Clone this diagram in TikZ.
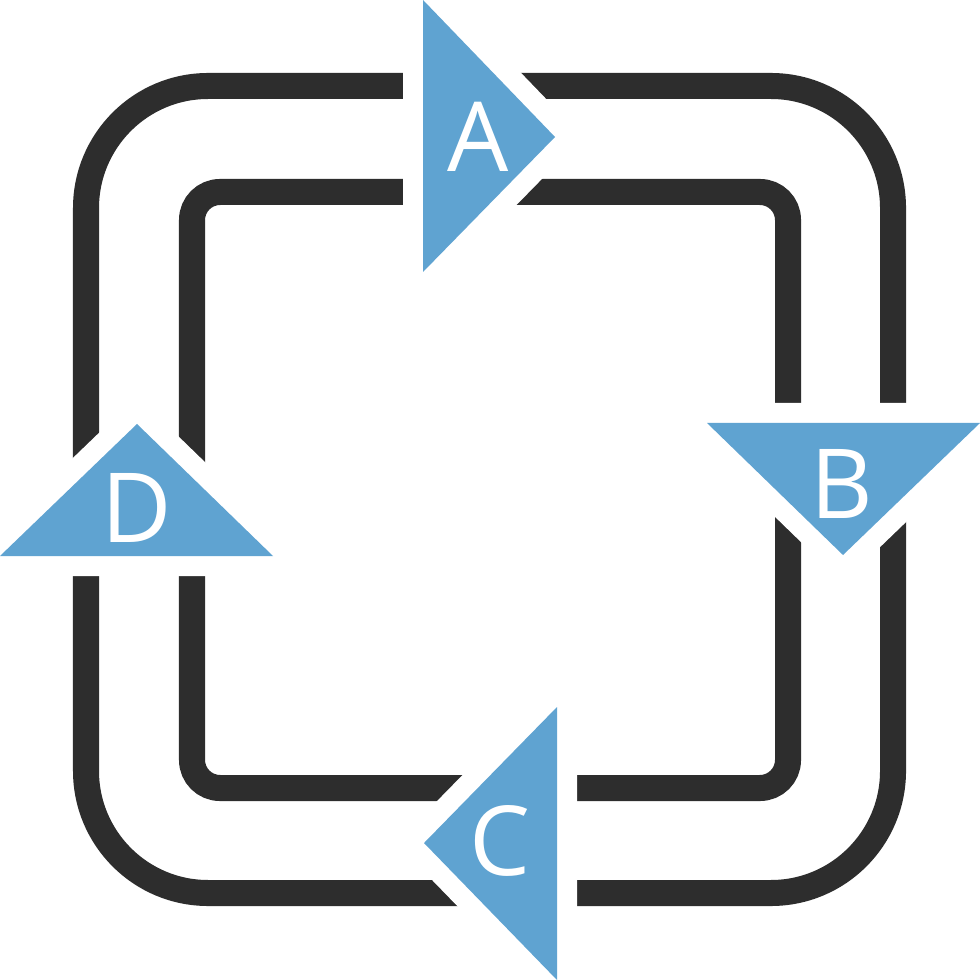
\documentclass[tikz,border=0pt]{standalone}
\usepackage{fontspec}
\setmainfont{Open Sans}
\definecolor{dk}{HTML}{2D2D2D}
\definecolor{bl}{HTML}{5FA3D1}
\begin{document}
\begin{tikzpicture}[x=0.01cm,y=-0.01cm,
  ring/.style={draw=dk,line width=0.26cm},
  arrowtri/.style={fill=bl, preaction={draw=white,line width=0.4cm,line join=round}},
  letter/.style={text=white,inner sep=0pt,font=\fontsize{27.5}{28}\selectfont}]
\fill[white] (0,0) rectangle (980,980);
\useasboundingbox (0,0) rectangle (980,980);
% rings
\draw[ring,rounded corners=1.22cm] (86,86) rectangle (893,893);
\draw[ring,rounded corners=0.28cm] (192,192) rectangle (788,788);
% triangles
\path[arrowtri] (423,0) -- (555,137) -- (423,272) -- cycle;
\path[arrowtri] (707,423) -- (980,423) -- (843,555) -- cycle;
\path[arrowtri] (557,707) -- (557,980) -- (424,843) -- cycle;
\path[arrowtri] (137,424) -- (273,556) -- (0,556) -- cycle;
% letters
\node[letter] (la) at (478,137) {A};
\node[letter] (lb) at (842,484) {B};
\node[letter] (lc) at (500,841) {C};
\node[letter] (ld) at (137,508) {D};
\end{tikzpicture}
\end{document}
